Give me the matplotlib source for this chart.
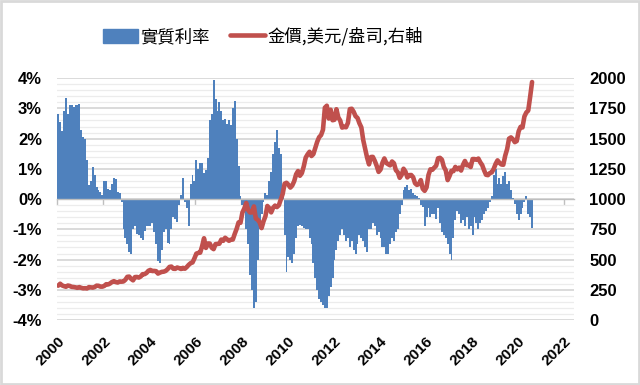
import numpy as np
import matplotlib
matplotlib.use("Agg")
import matplotlib.pyplot as plt
from matplotlib.patches import Rectangle, Patch
from matplotlib.ticker import MultipleLocator, FuncFormatter

# 實質利率 (%), 月資料 2000/01 - 2020/08
rate_2000 = [2.8, 2.55, 2.25, 2.9, 3.35, 2.8, 3.1, 3.1, 3.05, 3.1, 3.1, 3.15]
rate_2001 = [2.3, 2.05, 2.0, 1.3, 0.45, 0.6, 1.05, 0.8, 0.4, 0.3, 0.25, 0.15]
rate_2002 = [0.6, 0.6, 0.35, 0.3, 0.5, 0.7, 0.65, 0.25, 0.2, -0.1, -1.0, -1.3]
rate_2003 = [-1.5, -1.75, -1.8, -1.0, -0.9, -1.15, -1.2, -1.3, -1.35, -1.05, -0.9, -0.9]
rate_2004 = [-0.9, -0.8, -1.1, -1.5, -2.05, -2.1, -1.7, -1.1, -1.0, -1.45, -1.5, -1.0]
rate_2005 = [-0.6, -0.65, -0.75, -0.2, 0.15, 0.7, -0.1, -0.3, -0.9, 0.5, 0.8, 0.6]
rate_2006 = [1.3, 1.0, 1.2, 1.2, 0.85, 0.95, 1.35, 2.6, 2.8, 3.95, 3.3, 2.9]
rate_2007 = [3.2, 2.9, 2.6, 2.65, 2.5, 2.6, 2.45, 3.0, 3.25, 2.0, 1.1, 0.1]
rate_2008 = [-0.2, -0.4, -1.0, -1.5, -2.5, -3.0, -3.6, -3.4, -2.0, -1.0, -0.5, -0.1]
rate_2009 = [0.2, 0.15, 0.6, 0.9, 1.5, 1.9, 2.3, 1.7, 1.5, 0.15, -1.2, -2.4]
rate_2010 = [-1.9, -2.0, -2.1, -1.8, -1.3, -0.9, -0.85, -0.9, -0.95, -1.0, -1.0, -1.3]
rate_2011 = [-1.5, -2.1, -2.6, -3.0, -3.3, -3.4, -3.5, -3.6, -3.6, -3.2, -2.9, -2.6]
rate_2012 = [-2.0, -1.7, -1.4, -1.2, -1.0, -1.2, -1.4, -1.3, -1.6, -1.4, -1.7, -1.8]
rate_2013 = [-1.5, -1.2, -1.3, -1.4, -1.6, -1.75, -1.0, -1.0, -0.8, -0.9, -1.2, -1.1]
rate_2014 = [-1.3, -1.6, -1.6, -1.8, -1.8, -1.5, -1.3, -1.4, -1.1, -1.0, -0.5, -0.2]
rate_2015 = [0.3, 0.4, 0.45, 0.3, 0.35, 0.2, 0.15, 0.1, 0.05, -0.2, -0.25, -0.9]
rate_2016 = [-0.6, -0.3, -0.6, -0.5, -0.5, -0.65, -0.3, -0.8, -1.1, -1.2, -1.3, -1.5]
rate_2017 = [-1.8, -2.0, -1.3, -0.7, -0.4, -0.5, -0.8, -0.7, -0.9, -0.6, -1.0, -0.9]
rate_2018 = [-1.2, -0.6, -0.8, -1.0, -0.8, -0.7, -0.5, -0.4, -0.3, -0.1, 0.1, 0.8]
rate_2019 = [1.0, 0.5, 0.7, 0.5, 0.75, 0.9, 0.5, 0.6, 0.3, 0.05, -0.15, -0.5]
rate_2020 = [-0.7, -0.5, -0.3, -0.1, 0.1, -0.5, -0.6, -0.95]

# 金價 (美元/盎司), 月均價
gold_2000 = [284, 300, 286, 280, 275, 285, 282, 274, 273, 270, 266, 272]
gold_2001 = [266, 262, 263, 261, 272, 270, 268, 273, 284, 283, 276, 276]
gold_2002 = [282, 296, 294, 302, 314, 321, 314, 310, 319, 317, 319, 333]
gold_2003 = [357, 359, 340, 328, 355, 356, 351, 360, 379, 379, 389, 407]
gold_2004 = [414, 405, 406, 404, 384, 392, 398, 400, 406, 420, 439, 442]
gold_2005 = [424, 423, 434, 429, 422, 431, 424, 438, 456, 470, 476, 510]
gold_2006 = [549, 555, 557, 610, 676, 596, 633, 632, 598, 586, 628, 629]
gold_2007 = [631, 665, 655, 680, 668, 655, 665, 665, 712, 754, 807, 804]
gold_2008 = [889, 923, 968, 909, 889, 890, 939, 839, 829, 807, 760, 816]
gold_2009 = [858, 943, 925, 890, 928, 946, 934, 949, 996, 1043, 1127, 1135]
gold_2010 = [1118, 1095, 1113, 1148, 1205, 1232, 1193, 1215, 1271, 1343, 1370, 1391]
gold_2011 = [1356, 1372, 1424, 1474, 1512, 1529, 1573, 1756, 1772, 1666, 1739, 1652]
gold_2012 = [1656, 1743, 1675, 1649, 1591, 1598, 1594, 1630, 1744, 1747, 1722, 1685]
gold_2013 = [1671, 1627, 1593, 1487, 1414, 1343, 1287, 1348, 1349, 1316, 1275, 1225]
gold_2014 = [1244, 1300, 1336, 1299, 1288, 1279, 1311, 1296, 1239, 1222, 1176, 1200]
gold_2015 = [1251, 1227, 1179, 1198, 1199, 1181, 1131, 1117, 1125, 1157, 1086, 1068]
gold_2016 = [1097, 1199, 1246, 1242, 1260, 1276, 1337, 1341, 1326, 1266, 1238, 1157]
gold_2017 = [1192, 1234, 1231, 1266, 1246, 1260, 1236, 1283, 1315, 1280, 1283, 1265]
gold_2018 = [1331, 1331, 1325, 1335, 1304, 1281, 1238, 1201, 1198, 1215, 1221, 1250]
gold_2019 = [1291, 1320, 1300, 1286, 1284, 1359, 1413, 1500, 1510, 1495, 1471, 1480]
gold_2020 = [1560, 1597, 1592, 1683, 1716, 1732, 1846, 1968]

rate = np.array(rate_2000 + rate_2001 + rate_2002 + rate_2003 + rate_2004 + rate_2005
                + rate_2006 + rate_2007 + rate_2008 + rate_2009 + rate_2010 + rate_2011
                + rate_2012 + rate_2013 + rate_2014 + rate_2015 + rate_2016 + rate_2017
                + rate_2018 + rate_2019 + rate_2020)
gold = np.array(gold_2000 + gold_2001 + gold_2002 + gold_2003 + gold_2004 + gold_2005
                + gold_2006 + gold_2007 + gold_2008 + gold_2009 + gold_2010 + gold_2011
                + gold_2012 + gold_2013 + gold_2014 + gold_2015 + gold_2016 + gold_2017
                + gold_2018 + gold_2019 + gold_2020)
edges = 2000 + np.arange(len(rate) + 1) / 12.0   # month boundaries
mid = 0.5 * (edges[:-1] + edges[1:])

year_ticks = list(range(2000, 2023, 2))

cjk = ['Noto Sans CJK TC', 'DejaVu Sans']
num_font = 'Liberation Sans'
bar_blue = '#4F81BD'
gold_red = '#C0504D'

fig = plt.figure(figsize=(6.4, 3.85), dpi=100)
ax = fig.add_axes([0.0895, 0.1688, 0.8075, 0.6282])
ax2 = ax.twinx()

# contiguous monthly bars (gap width 0)
ax.stairs(rate, edges, baseline=0, fill=True, color=bar_blue, lw=0, zorder=2)
line, = ax2.plot(mid, gold, color=gold_red, lw=3.3, solid_capstyle='round')

ax.set_xlim(2000, 2022.45)
ax.set_ylim(-4, 4)
ax2.set_ylim(0, 2000)

# grid
ax.yaxis.set_major_locator(MultipleLocator(1))
ax.yaxis.set_minor_locator(MultipleLocator(0.2))
ax.grid(axis='y', which='major', color='#D4D4D4', lw=1.2, zorder=0)
ax.grid(axis='y', which='minor', color='#ECECEC', lw=0.9, zorder=0)
ax.set_axisbelow(True)

for a in (ax, ax2):
    for s in a.spines.values():
        s.set_visible(False)

# zero line with tick marks
ax.spines['bottom'].set_visible(True)
ax.spines['bottom'].set_position(('data', 0))
ax.spines['bottom'].set_color('#BFBFBF')
ax.spines['bottom'].set_linewidth(1.0)
ax.set_xticks(year_ticks)
ax.tick_params(axis='x', direction='out', length=4, width=1, color='#BFBFBF',
               labelbottom=False)
ax.tick_params(axis='y', which='both', length=0, pad=11)
ax.yaxis.set_major_formatter(FuncFormatter(lambda v, p: f'{v:.0f}%'))
for lab in ax.get_yticklabels():
    lab.set_fontfamily(num_font)
    lab.set_fontweight('bold')
    lab.set_fontsize(12)

ax2.yaxis.set_major_locator(MultipleLocator(250))
ax2.tick_params(axis='y', length=0, pad=11)
for lab in ax2.get_yticklabels():
    lab.set_fontfamily(num_font)
    lab.set_fontweight('bold')
    lab.set_fontsize(12)

# year labels at bottom of plot
sec = ax.secondary_xaxis('bottom')
sec.set_xticks(year_ticks)
sec.spines['bottom'].set_visible(False)
sec.tick_params(axis='x', length=0, pad=10)
for lab in sec.get_xticklabels():
    lab.set_fontfamily(num_font)
    lab.set_fontweight('bold')
    lab.set_fontsize(11)
    lab.set_rotation(45)
    lab.set_ha('right')
    lab.set_va('top')
    lab.set_rotation_mode('anchor')

fig.legend([Patch(color=bar_blue), line], ['實質利率', '金價,美元/盎司,右軸'],
           loc='center', bbox_to_anchor=(0.411, 0.905), ncol=2, frameon=False,
           prop={'family': cjk, 'size': 12.5}, handlelength=2.0,
           handletextpad=0.15, columnspacing=1.2, handleheight=0.9)

fig.patches.append(Rectangle((0.002, 0.003), 0.996, 0.994, transform=fig.transFigure,
                             fill=False, edgecolor='#D9D9D9', lw=2))

fig.savefig('out.png', dpi=100)
